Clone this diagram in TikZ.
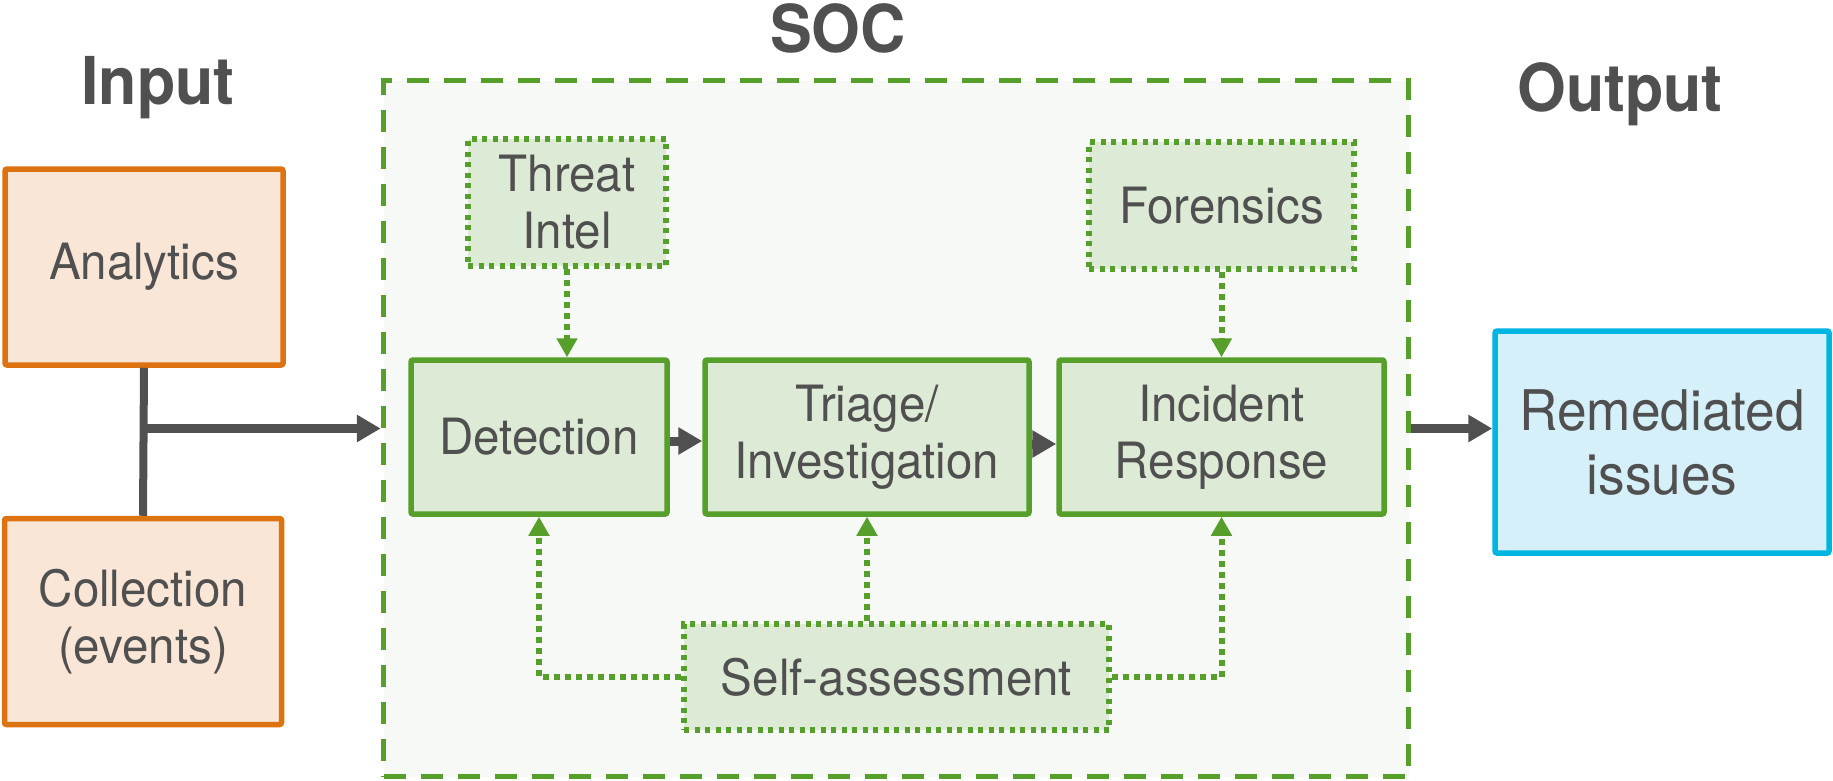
\documentclass[tikz,border=0pt]{standalone}
\usepackage{fontspec}
\setmainfont{TeX Gyre Heros}[FakeStretch=0.95]
\usetikzlibrary{arrows.meta,calc}
\definecolor{txt}{HTML}{505050}
\definecolor{grn}{HTML}{569F2B}
\definecolor{grnfill}{HTML}{DDEBD6}
\definecolor{socfill}{HTML}{F7F9F6}
\definecolor{org}{HTML}{DD7211}
\definecolor{orgfill}{HTML}{F9E6D6}
\definecolor{cyn}{HTML}{00B5E2}
\definecolor{cynfill}{HTML}{D5F0F9}
\tikzset{
  bodytext/.style={text=txt, font=\fontsize{50}{57}\selectfont, align=center, inner sep=0pt},
  titletext/.style={text=txt, font=\fontsize{66}{70}\selectfont\bfseries, inner sep=0pt, anchor=base},
  inbox/.style={bodytext, draw=org, fill=orgfill, line width=5.5pt, rounded corners=2pt},
  stepbox/.style={bodytext, draw=grn, fill=grnfill, line width=5.5pt, rounded corners=2pt},
  dotbox/.style={bodytext, draw=grn, fill=grnfill, line width=5.5pt, dash pattern=on 5pt off 5.5pt},
  outbox/.style={bodytext, draw=cyn, fill=cynfill, line width=5.5pt, rounded corners=2pt,
    font=\fontsize{56}{64}\selectfont},
  socbox/.style={draw=grn, fill=socfill, line width=5.5pt, dash pattern=on 22pt off 15pt},
  grayarrow/.style={draw=txt, line width=9pt, -{Triangle[length=24pt,width=26pt]}},
  grayline/.style={draw=txt, line width=8pt},
  dotarrow/.style={draw=grn, line width=6pt, dash pattern=on 6pt off 5pt, -{Triangle[length=19pt,width=20pt]}},
  shade/.style={draw=black, draw opacity=0.12, line width=12pt}
}
\begin{document}
\begin{tikzpicture}[x=1pt,y=-1pt]
\useasboundingbox (0,0) rectangle (1833,780);
% titles
\node[titletext] (tin) at (158,104) {Input};
\node[titletext] (tsoc) at (838,52) {SOC};
\node[titletext] (tout) at (1620,111) {Output};
% SOC container
\node[socbox, minimum width=1025pt, minimum height=696pt] (soc) at (896,428.5) {};
% input boxes
\node[inbox, minimum width=278pt, minimum height=196pt] (ana) at (144,267) {Analytics};
\node[inbox, minimum width=277pt, minimum height=206pt] (col) at (143,621.5) {Collection\\(events)};
% SOC boxes
\node[dotbox, minimum width=198pt, minimum height=127pt] (ti) at (567,202.5) {Threat\\Intel};
\node[dotbox, minimum width=265pt, minimum height=127pt] (for) at (1221.5,205.5) {Forensics};
\node[stepbox, minimum width=256pt, minimum height=154pt] (det) at (539,437) {Detection};
\node[stepbox, minimum width=324pt, minimum height=154pt] (tri) at (867,437) {Triage/\\Investigation};
\node[stepbox, minimum width=325pt, minimum height=154pt] (inc) at (1221.5,437) {Incident\\Response};
\node[dotbox, minimum width=425pt, minimum height=106pt] (sa) at (896.5,677) {Self-assessment};
% output box
\node[outbox, minimum width=334pt, minimum height=222pt] (rem) at (1662,442) {Remediated\\issues};
% input connectors
\draw[grayline] (ana.south) -- (col.north);
\draw[grayarrow] (ana.south |- soc.west) -- (soc.west);
% output connector
\draw[grayarrow] (soc.east) -- (soc.east -| rem.west);
% flow arrows
\draw[grayarrow] ($(det.east)+(0,4)$) -- ($(tri.west)+(0,4)$);
\draw[grayarrow] ($(tri.east)+(0,7)$) -- ($(inc.west)+(0,7)$);
% dotted arrows
\draw[dotarrow] (ti.south) -- (ti.south |- det.north);
\draw[dotarrow] (for.south) -- (for.south |- inc.north);
\draw[dotarrow] (sa.north -| tri.south) -- (tri.south);
\draw[dotarrow] (sa.west) -- (det.south |- sa.west) -- (det.south);
\draw[dotarrow] (sa.east) -- (inc.south |- sa.east) -- (inc.south);
\end{tikzpicture}
\end{document}
